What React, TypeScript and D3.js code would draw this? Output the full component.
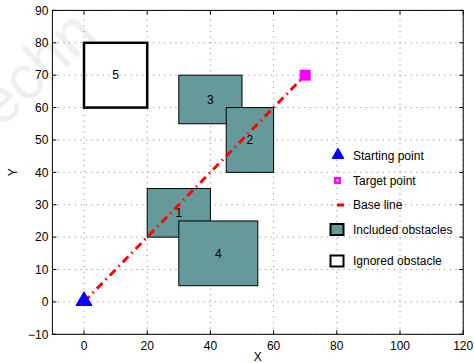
import React from "react";
import * as d3 from "d3";

const xTicks = [0, 20, 40, 60, 80, 100, 120];
const yTicks = [-10, 0, 10, 20, 30, 40, 50, 60, 70, 80, 90];

// obstacles in drawing order
const obsIds = ["5", "1", "4", "3", "2"];
const obsX0 = [0, 20, 30, 30, 45];
const obsX1 = [20, 40, 55, 50, 60];
const obsY0 = [60, 20, 5, 55, 40];
const obsY1 = [80, 35, 25, 70, 60];
const obsIncluded = [false, true, true, true, true];

const startPoint = [0, 0];
const targetPoint = [70, 70];

const legendLabels = ["Starting point", "Target point", "Base line", "Included obstacles", "Ignored obstacle"];

const W = 474;
const H = 363;
const FONT = "'Liberation Sans', Arial, Helvetica, sans-serif";
const TEAL = "#669999";

export default function App() {
  const x = d3.scaleLinear().domain([-10, 120]).range([52.4, 463.2]);
  const y = d3.scaleLinear().domain([-10, 90]).range([334.3, 10.4]);
  const [x0, x1] = x.range();
  const [y0, y1] = y.range();
  const line = d3.line<number[]>().x((d) => x(d[0])).y((d) => y(d[1]));
  const tri = d3.symbol().type(d3.symbolTriangle);
  const legendY = [156, 180.5, 205, 229.5, 261];
  const lx = 337;

  return (
    <svg width={W} height={H} style={{ position: "absolute", left: 0, top: 0, background: "#fff" }}>
      <rect width={W} height={H} fill="#fff" />
      {/* faint watermark */}
      <text
        x={-22}
        y={150}
        transform="rotate(-43 -22 150)"
        fontFamily={FONT}
        fontSize={62}
        fill="#efefef"
      >
        Techn
      </text>
      {/* grid */}
      <g stroke="#666" strokeWidth={0.8} strokeDasharray="1,4.6">
        {xTicks.map((t) => (
          <line key={"gx" + t} x1={x(t)} x2={x(t)} y1={y0} y2={y1} />
        ))}
        {yTicks.map((t) => (
          <line key={"gy" + t} x1={x0} x2={x1} y1={y(t)} y2={y(t)} />
        ))}
      </g>
      {/* obstacles */}
      {obsIds.map((id, i) => {
        const inc = obsIncluded[i];
        return (
          <rect
            key={"o" + id}
            x={x(obsX0[i])}
            y={y(obsY1[i])}
            width={x(obsX1[i]) - x(obsX0[i])}
            height={y(obsY0[i]) - y(obsY1[i])}
            fill={inc ? TEAL : "none"}
            stroke="#000"
            strokeWidth={inc ? 1 : 2.5}
          />
        );
      })}
      {obsIds.map((id, i) => (
        <text
          key={"ol" + id}
          x={x((obsX0[i] + obsX1[i]) / 2)}
          y={y((obsY0[i] + obsY1[i]) / 2)}
          dy="0.35em"
          textAnchor="middle"
          fontFamily={FONT}
          fontSize={12}
          fill="#000"
        >
          {id}
        </text>
      ))}
      {/* base line */}
      <path
        d={line([startPoint, targetPoint]) || ""}
        fill="none"
        stroke="#ff0000"
        strokeWidth={3}
        strokeDasharray="8,4.5,1.5,4.5"
      />
      {/* start */}
      <path
        d={tri.size(110)() || ""}
        transform={`translate(${x(startPoint[0])},${y(startPoint[1]) - 1})`}
        fill="#0000ff"
        stroke="#0000ff"
      />
      {/* target */}
      <rect
        x={x(targetPoint[0]) - 5.5}
        y={y(targetPoint[1]) - 5.5}
        width={11}
        height={11}
        fill="#ff00ff"
      />
      {/* axes box */}
      <rect x={x0} y={y1} width={x1 - x0} height={y0 - y1} fill="none" stroke="#000" strokeWidth={1} />
      <g stroke="#000" strokeWidth={1}>
        {xTicks.map((t) => (
          <g key={"tx" + t}>
            <line x1={x(t)} x2={x(t)} y1={y0} y2={y0 - 4} />
            <line x1={x(t)} x2={x(t)} y1={y1} y2={y1 + 4} />
          </g>
        ))}
        {yTicks.map((t) => (
          <g key={"ty" + t}>
            <line x1={x0} x2={x0 + 4} y1={y(t)} y2={y(t)} />
            <line x1={x1} x2={x1 - 4} y1={y(t)} y2={y(t)} />
          </g>
        ))}
      </g>
      {/* tick labels */}
      <g fontFamily={FONT} fontSize={12} fill="#000">
        {xTicks.map((t) => (
          <text key={"lx" + t} x={x(t)} y={y0 + 16} textAnchor="middle">
            {t}
          </text>
        ))}
        {yTicks.map((t) => (
          <text key={"ly" + t} x={x0 - 4} y={y(t)} dy="0.35em" textAnchor="end">
            {t < 0 ? "\u2212" + Math.abs(t) : t}
          </text>
        ))}
        <text x={(x0 + x1) / 2} y={361} textAnchor="middle">
          X
        </text>
        <text
          x={0}
          y={0}
          transform={`translate(17,${(y0 + y1) / 2}) rotate(-90)`}
          textAnchor="middle"
        >
          Y
        </text>
      </g>
      {/* legend */}
      <g fontFamily={FONT} fontSize={12} fill="#000">
        <path
          d={tri.size(60)() || ""}
          transform={`translate(${lx + 1},${legendY[0] - 1})`}
          fill="#0000ff"
          stroke="#0000ff"
        />
        <rect x={lx - 3} y={legendY[1] - 3.5} width={7} height={7} fill="#ff00ff" />
        <rect x={lx - 0.5} y={legendY[1] - 1} width={2} height={2} fill="#fff" />
        <line x1={lx} x2={lx + 7} y1={legendY[2]} y2={legendY[2]} stroke="#ff0000" strokeWidth={3} />
        <line x1={lx - 6} x2={lx - 5} y1={legendY[2]} y2={legendY[2]} stroke="#ff8888" strokeWidth={2} />
        <rect x={lx - 6.5} y={legendY[3] - 5.5} width={13} height={11} fill={TEAL} stroke="#000" strokeWidth={2} />
        <rect x={lx - 6.5} y={legendY[4] - 5.5} width={13} height={11} fill="#fff" stroke="#000" strokeWidth={2} />
        {legendLabels.map((s, i) => (
          <text key={"leg" + i} x={353} y={legendY[i]} dy="0.35em">
            {s}
          </text>
        ))}
      </g>
    </svg>
  );
}
